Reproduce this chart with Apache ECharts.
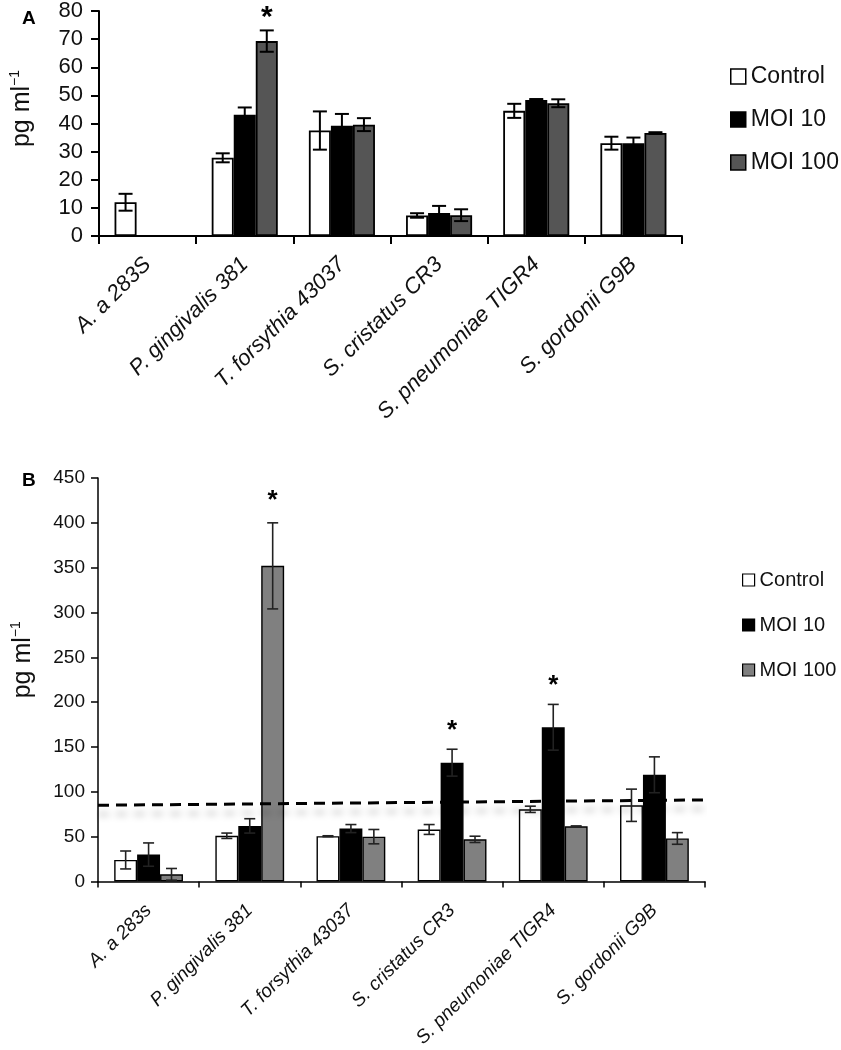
<!DOCTYPE html>
<html><head><meta charset="utf-8">
<script src="https://cdn.jsdelivr.net/npm/echarts@6/dist/echarts.min.js"></script>
<style>html,body{margin:0;padding:0;background:#fff}#c{width:841px;height:1050px}</style>
</head><body><div id="c"></div>
<script>
// ---------- Panel A data ----------
const categoriesA = ['A. a 283S','P. gingivalis 381','T. forsythia 43037','S. cristatus CR3','S. pneumoniae TIGR4','S. gordonii G9B'];
const controlA    = [12, 27.8, 37.5, 7.3, 44.5, 33];
const controlErrA = [3, 1.6, 6.8, 0.8, 2.5, 2.3];
const moi10A      = [null, 43.1, 39.2, 8.2, 48.4, 33];
const moi10ErrA   = [null, 2.6, 4.2, 2.5, 0.3, 2];
const moi100A     = [null, 69.3, 39.6, 7.4, 47.2, 36.6];
const moi100ErrA  = [null, 3.8, 2.3, 2.1, 1.4, 0.3];
const starsA      = [[1, 77.5, 2]];            // [category index, y, bar index]

// ---------- Panel B data ----------
const categoriesB = ['A. a 283s','P. gingivalis 381','T. forsythia 43037','S. cristatus CR3','S. pneumoniae TIGR4','S. gordonii G9B'];
const controlB    = [24, 51, 50.5, 58, 80.5, 85];
const controlErrB = [10, 3, 0.5, 5.5, 3.5, 18];
const moi10B      = [30, 62, 59, 132.5, 172, 119];
const moi10ErrB   = [13, 8, 4.5, 15, 25.5, 20];
const moi100B     = [8, 352, 50, 47, 61.5, 48];
const moi100ErrB  = [6.5, 48, 8, 3.5, 0.5, 6.5];
const starsB      = [[1, 424, 2], [3, 168, 1], [4, 218, 1]];
const dashX       = [0, 1];
const dashY       = [85, 91];

const seriesNames = ['Control', 'MOI 10', 'MOI 100'];
const FONT = "'Liberation Sans', Arial, sans-serif";
const GAP = 0.32;

function errData(vals, errs) {
  const out = [];
  vals.forEach((v, i) => { if (v != null && errs[i] != null) out.push([i, v, errs[i]]); });
  return out;
}
function errRender(k, capW, lw, color) {
  return function (params, api) {
    const i = api.value(0), v = api.value(1), e = api.value(2);
    const band = api.size([1, 0])[0];
    const bw = band * (1 - GAP) / 3;
    const x = api.coord([i, v])[0] + (k - 1) * bw;
    const yt = api.coord([i, v + e])[1];
    const yb = api.coord([i, v - e])[1];
    const st = { stroke: color, lineWidth: lw };
    return { type: 'group', children: [
      { type: 'line', shape: { x1: x, y1: yt, x2: x, y2: yb }, style: st },
      { type: 'line', shape: { x1: x - capW / 2, y1: yt, x2: x + capW / 2, y2: yt }, style: st },
      { type: 'line', shape: { x1: x - capW / 2, y1: yb, x2: x + capW / 2, y2: yb }, style: st }
    ]};
  };
}
function starRender(size) {
  return function (params, api) {
    const i = api.value(0), y = api.value(1), k = api.value(2);
    const band = api.size([1, 0])[0];
    const bw = band * (1 - GAP) / 3;
    const p = api.coord([i, y]);
    return { type: 'text', x: p[0] + (k - 1) * bw, y: p[1],
      style: { text: '*', font: 'bold ' + size + 'px ' + FONT, fill: '#000', align: 'center', verticalAlign: 'middle' } };
  };
}

const colorsA = ['#ffffff', '#000000', '#555555'];
const colorsB = ['#ffffff', '#000000', '#808080'];
const valsA = [controlA, moi10A, moi100A], errsA = [controlErrA, moi10ErrA, moi100ErrA];
const valsB = [controlB, moi10B, moi100B], errsB = [controlErrB, moi10ErrB, moi100ErrB];

const series = [];
seriesNames.forEach((n, k) => {
  series.push({ type: 'bar', name: n, xAxisIndex: 0, yAxisIndex: 0, data: valsA[k],
    barGap: '0%', barCategoryGap: (GAP * 100) + '%',
    itemStyle: { color: colorsA[k], borderColor: '#000', borderWidth: 1.8 } });
});
seriesNames.forEach((n, k) => {
  series.push({ type: 'custom', name: n + ' errA', xAxisIndex: 0, yAxisIndex: 0, z: 5,
    data: errData(valsA[k], errsA[k]), renderItem: errRender(k, 14, 2, '#000') });
});
series.push({ type: 'custom', name: 'starsA', xAxisIndex: 0, yAxisIndex: 0, z: 6, clip: false, data: starsA, renderItem: starRender(30) });

seriesNames.forEach((n, k) => {
  series.push({ type: 'bar', name: n, xAxisIndex: 1, yAxisIndex: 1, data: valsB[k],
    barGap: '0%', barCategoryGap: (GAP * 100) + '%',
    itemStyle: { color: colorsB[k], borderColor: '#000', borderWidth: 1.4 } });
});
seriesNames.forEach((n, k) => {
  series.push({ type: 'custom', name: n + ' errB', xAxisIndex: 1, yAxisIndex: 1, z: 5,
    data: errData(valsB[k], errsB[k]), renderItem: errRender(k, 11, 1.6, '#222') });
});
series.push({ type: 'custom', name: 'starsB', xAxisIndex: 1, yAxisIndex: 1, z: 6, clip: false, data: starsB, renderItem: starRender(26) });
series.push({ type: 'line', name: 'threshold', xAxisIndex: 2, yAxisIndex: 1, z: 7, symbol: 'none', silent: true,
  data: dashX.map((x, i) => [x, dashY[i]]),
  lineStyle: { color: '#000', width: 3, type: [11, 7], shadowColor: 'rgba(0,0,0,0.25)', shadowBlur: 7, shadowOffsetY: 9 } });

const axisLine = w => ({ show: true, lineStyle: { color: '#000', width: w } });

const option = {
  animation: false,
  backgroundColor: '#fff',
  title: [
    { text: 'A', left: 17, top: 4, textStyle: { fontFamily: FONT, fontSize: 19, fontWeight: 'bold', color: '#000' } },
    { text: 'B', left: 17, top: 466, textStyle: { fontFamily: FONT, fontSize: 19, fontWeight: 'bold', color: '#000' } }
  ],
  legend: [
    { orient: 'vertical', left: 725, top: 60, itemWidth: 15, itemHeight: 15, itemGap: 20, icon: 'rect',
      textStyle: { fontFamily: FONT, fontSize: 23, color: '#111' },
      data: [
        { name: 'Control', itemStyle: { color: '#fff', borderColor: '#000', borderWidth: 1.5 } },
        { name: 'MOI 10', itemStyle: { color: '#000', borderColor: '#000', borderWidth: 1.5 } },
        { name: 'MOI 100', itemStyle: { color: '#555', borderColor: '#000', borderWidth: 1.5 } }
      ] },
    { orient: 'vertical', left: 737, top: 565, itemWidth: 12, itemHeight: 12, itemGap: 25, icon: 'rect',
      textStyle: { fontFamily: FONT, fontSize: 20, color: '#111' },
      data: [
        { name: 'Control', itemStyle: { color: '#fff', borderColor: '#000', borderWidth: 1.2 } },
        { name: 'MOI 10', itemStyle: { color: '#000', borderColor: '#000', borderWidth: 1.2 } },
        { name: 'MOI 100', itemStyle: { color: '#808080', borderColor: '#000', borderWidth: 1.2 } }
      ] }
  ],
  grid: [
    { left: 97, top: 10, width: 585, height: 226 },
    { left: 98, top: 478, width: 607, height: 404 }
  ],
  xAxis: [
    { type: 'category', gridIndex: 0, data: categoriesA, axisLine: axisLine(2),
      axisTick: { show: true, length: 8, lineStyle: { color: '#000', width: 2 } },
      axisLabel: { rotate: 45, margin: 25, interval: 0, fontFamily: FONT, fontSize: 22, fontStyle: 'italic', color: '#111' } },
    { type: 'category', gridIndex: 1, data: categoriesB, axisLine: axisLine(1.5),
      axisTick: { show: true, length: 6, lineStyle: { color: '#000', width: 1.5 } },
      axisLabel: { rotate: 45, margin: 26, interval: 0, fontFamily: FONT, fontSize: 19, fontStyle: 'italic', color: '#111' } },
    { type: 'value', gridIndex: 1, min: 0, max: 1, show: false }
  ],
  yAxis: [
    { type: 'value', gridIndex: 0, min: 0, max: 80, interval: 10, splitLine: { show: false },
      axisLine: axisLine(2), axisTick: { show: true, length: 8, lineStyle: { color: '#000', width: 2 } },
      axisLabel: { fontFamily: FONT, fontSize: 22, color: '#111', margin: 16 },
      name: '{n|pg ml}{s|−1}', nameLocation: 'middle', nameGap: 63, nameRotate: 90,
      nameTextStyle: { padding: [0, 0, 0, 30], rich: { n: { fontFamily: FONT, fontSize: 25, color: '#111' }, s: { fontFamily: FONT, fontSize: 14, color: '#111', padding: [0, 0, 14, 0] } } } },
    { type: 'value', gridIndex: 1, min: 0, max: 450, interval: 50, splitLine: { show: false },
      axisLine: axisLine(1.5), axisTick: { show: true, length: 7, lineStyle: { color: '#000', width: 1.5 } },
      axisLabel: { fontFamily: FONT, fontSize: 19, color: '#111', margin: 13 },
      name: '{n|pg ml}{s|−1}', nameLocation: 'middle', nameGap: 61, nameRotate: 90,
      nameTextStyle: { padding: [0, 0, 0, 40], rich: { n: { fontFamily: FONT, fontSize: 25, color: '#111' }, s: { fontFamily: FONT, fontSize: 14, color: '#111', padding: [0, 0, 14, 0] } } } }
  ],
  series: series
};
const chart = echarts.init(document.getElementById('c'), null, { renderer: 'canvas' });
chart.setOption(option);
</script></body></html>
